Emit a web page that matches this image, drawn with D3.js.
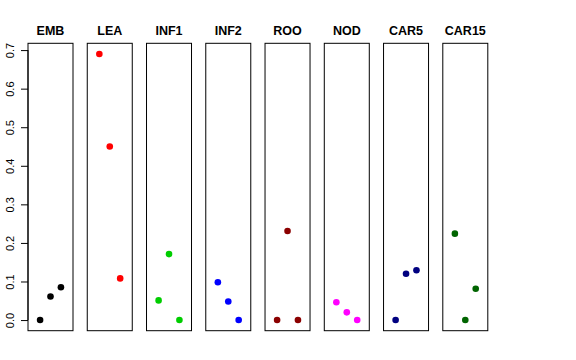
<!DOCTYPE html>
<html>
<head>
<meta charset="utf-8">
<script src="https://cdn.jsdelivr.net/npm/d3@7"></script>
<style>
  body { margin: 0; background: #fff; }
  text { font-family: "Liberation Sans", Arial, sans-serif; }
</style>
</head>
<body>
<div id="chart"></div>
<script>
// panel names and colours
var panelNames = ["EMB", "LEA", "INF1", "INF2", "ROO", "NOD", "CAR5", "CAR15"];
var panelColors = ["#000000", "#ff0000", "#00cd00", "#0000ff", "#8b0000", "#ff00ff", "#000080", "#006400"];

// three values per panel (positions 1, 2, 3)
var emb = [0.0, 0.061, 0.085];
var lea = [0.69, 0.45, 0.108];
var inf1 = [0.051, 0.171, 0.0];
var inf2 = [0.098, 0.048, 0.0];
var roo = [0.0, 0.231, 0.0];
var nod = [0.046, 0.020, 0.0];
var car5 = [0.0, 0.120, 0.129];
var car15 = [0.224, 0.0, 0.081];
var panelValues = [emb, lea, inf1, inf2, roo, nod, car5, car15];

var yTicks = [0, 0.1, 0.2, 0.3, 0.4, 0.5, 0.6, 0.7];

var svgWidth = 576;
var svgHeight = 360;

var svg = d3.select("#chart")
  .append("svg")
  .attr("width", svgWidth)
  .attr("height", svgHeight);

// panel layout
var panelWidth = 45;
var panelLeft = d3.scaleLinear().domain([0, 7]).range([28, 442.8]);
var plotTop = 43.3, plotBottom = 330.7;

// R style 4% padding on ylim c(0, max)
var yMax = d3.max(panelValues, d => d3.max(d));
var pad = yMax * 0.04;
var y = d3.scaleLinear()
  .domain([-pad, yMax + pad])
  .range([plotBottom, plotTop]);

panelNames.forEach(function(name, i) {
  var x0 = panelLeft(i);
  var x = d3.scaleLinear()
    .domain([-0.16, 4.16])
    .range([x0, x0 + panelWidth]);

  var g = svg.append("g");

  g.append("rect")
    .attr("x", x0)
    .attr("y", plotTop)
    .attr("width", panelWidth)
    .attr("height", plotBottom - plotTop)
    .attr("fill", "none")
    .attr("stroke", "#000")
    .attr("stroke-width", 1);

  g.append("text")
    .attr("x", x0 + panelWidth / 2)
    .attr("y", 35)
    .attr("text-anchor", "middle")
    .attr("font-size", "12.5px")
    .attr("font-weight", "bold")
    .text(name);

  g.selectAll("circle")
    .data(panelValues[i])
    .enter()
    .append("circle")
    .attr("cx", (d, j) => x(j + 1))
    .attr("cy", d => y(d))
    .attr("r", 3.3)
    .attr("fill", panelColors[i]);

  // y axis only on first panel
  if (i === 0) {
    var leftAxis = d3.axisLeft(y)
      .tickValues(yTicks)
      .tickSize(7)
      .tickPadding(4)
      .tickFormat(d3.format(".1f"));
    var axis = svg.append("g")
      .attr("transform", `translate(${x0}, 0)`)
      .call(leftAxis);
    axis.select(".domain")
      .attr("d", `M0,${y(0)}V${y(0.7)}`);
    axis.selectAll(".tick text")
      .attr("font-family", "Liberation Sans, Arial, sans-serif")
      .attr("font-size", "11px")
      .attr("fill", "#000")
      .attr("x", 0)
      .attr("dy", null)
      .attr("text-anchor", "middle")
      .attr("transform", "translate(-14, 0) rotate(-90)");
  }
});
</script>
</body>
</html>
